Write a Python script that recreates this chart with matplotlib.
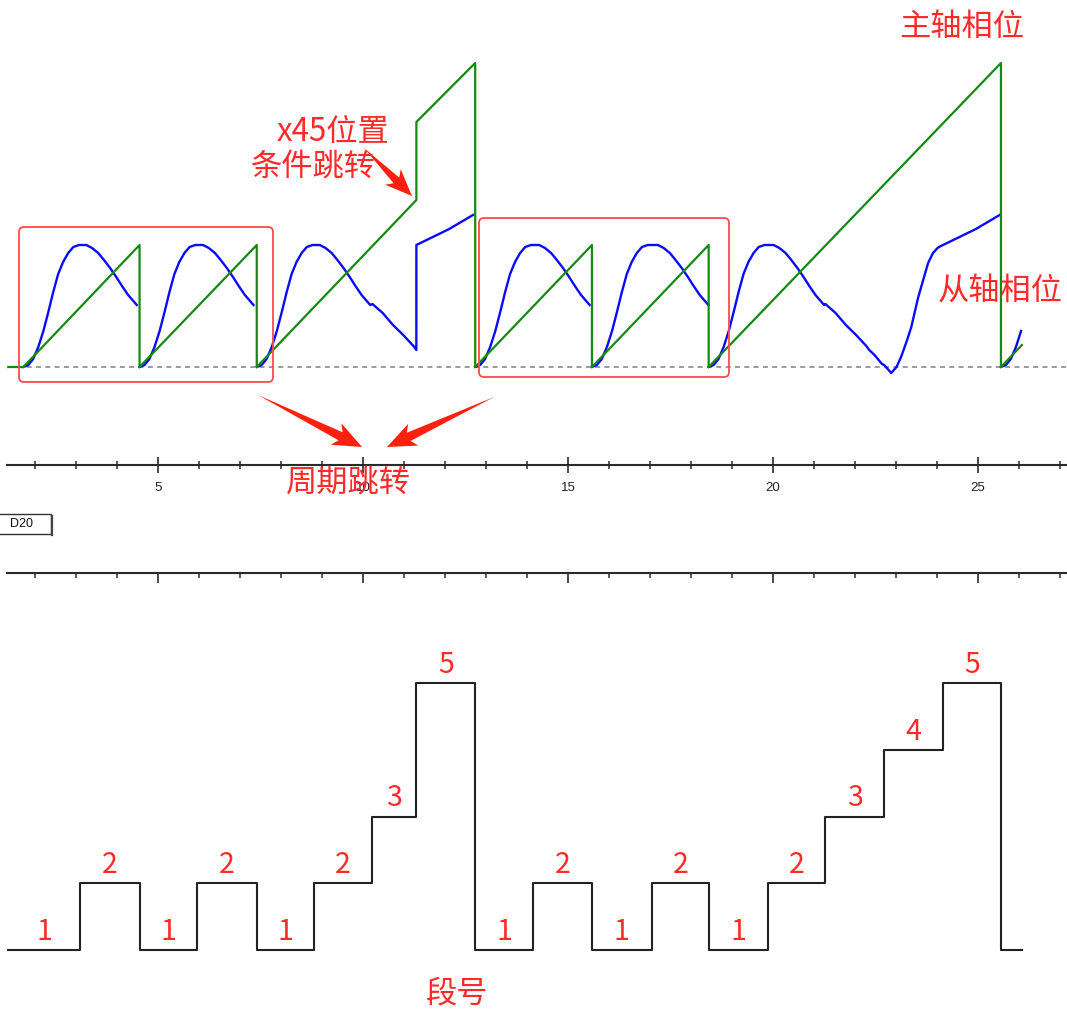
import numpy as np
import matplotlib
matplotlib.use("Agg")
import matplotlib.pyplot as plt
from matplotlib.patches import FancyBboxPatch, Polygon, Rectangle
from matplotlib.ticker import MultipleLocator

plt.rcParams['font.family'] = ['Noto Sans CJK SC', 'DejaVu Sans']

# ---- segment timeline (time in s) and the active segment number ----
SEG_EDGES = [1.35, 3.102, 4.55, 5.949, 7.409, 8.796, 10.231, 11.302, 12.737,
             14.148, 15.584, 17.044, 18.431, 19.866, 21.277, 22.713, 24.148,
             25.56, 26.071]
SEG_NUMS = [1, 2, 1, 2, 1, 2, 3, 5, 1, 2, 1, 2, 1, 2, 3, 4, 5, 1]
MOTION_START = 1.715

# ---- master axis phase (piecewise linear with resets / jump) ----
MASTER_T = [1.35, 1.715, 4.55, 4.55, 7.409, 7.409, 11.302, 11.302, 12.737,
            12.737, 15.584, 15.584, 18.431, 18.431, 25.56, 25.56, 26.071]
MASTER_V = [0, 0, 122, 0, 122, 0, 167, 245, 304,
            0, 122, 0, 122, 0, 304, 0, 22]

# ---- slave cam tables: time since segment start (s) -> slave phase ----
CAM1_T = [0, 0.12, 0.24, 0.365, 0.49, 0.61, 0.73, 0.85, 0.97, 1.095, 1.22, 1.36]
CAM1_V = [0, 2, 8, 20, 36, 55, 75, 93, 105, 114, 120, 122]
CAM2_T = [0, 0.15, 0.29, 0.44, 0.58, 0.73, 0.88, 1.02, 1.17, 1.38]
CAM2_V = [122, 122, 119, 114, 107, 99, 90, 81, 72, 62]
CAM3_T = [0, 0.25, 0.5, 0.75, 1.0, 1.07, 1.2, 1.38]
CAM3_V = [63, 54, 42, 32, 21, 17, 12, 3]
CAM4_T = [0, 0.17, 0.3, 0.41, 0.55, 0.66, 0.83, 0.95, 1.07, 1.19, 1.3, 1.38]
CAM4_V = [2, -6, 0, 10, 26, 40, 70, 87, 104, 114, 119, 121]
CAM5_T = [0, 0.3, 0.8, 1.38]
CAM5_V = [122, 128, 138, 152]

TICK_MAJOR = [5, 10, 15, 20, 25]
TICK_LABELS = ['5', '10', '15', '20', '25']

CAMS = {1: (CAM1_T, CAM1_V), 2: (CAM2_T, CAM2_V), 3: (CAM3_T, CAM3_V),
        4: (CAM4_T, CAM4_V), 5: (CAM5_T, CAM5_V)}

# slave phase follows the cam of each active segment; a new cycle
# (segment 1) restarts the curve, so the line is broken there
slave_t, slave_v = [], []
for i, seg in enumerate(SEG_NUMS):
    t0 = max(SEG_EDGES[i], MOTION_START)
    t1 = SEG_EDGES[i + 1]
    if seg == 1 and slave_t:
        slave_t.append(np.nan)
        slave_v.append(np.nan)
    cam_t, cam_v = CAMS[seg]
    for dt, v in zip(cam_t, cam_v):
        if t0 + dt <= t1 + 1e-6:
            slave_t.append(t0 + dt)
            slave_v.append(v)

W, H = 1067, 1010
fig = plt.figure(figsize=(W / 100, H / 100), dpi=100)

PX_PER_S = 41.0
X0 = 5 - 158 / PX_PER_S
X1 = X0 + W / PX_PER_S

RED = '#ff2b2b'
AXIS = '#2a2a2a'


def frac(y_top, y_bot):
    return [0, 1 - y_bot / H, 1, (y_bot - y_top) / H]


# ---------------- top: phase curves ----------------
ax = fig.add_axes(frac(0, 465))
ax.set_xlim(X0, X1)
ax.set_ylim(-98, 367)
ax.patch.set_alpha(0)
for s in ('top', 'left', 'right'):
    ax.spines[s].set_visible(False)
ax.spines['bottom'].set_bounds(SEG_EDGES[0] - 0.03, X1)
ax.spines['bottom'].set_linewidth(1.5)
ax.spines['bottom'].set_color(AXIS)
ax.set_yticks([])
ax.set_xticks(TICK_MAJOR)
ax.set_xticklabels(TICK_LABELS, fontfamily='Liberation Sans', fontsize=9.5,
                   color='#222')
ax.xaxis.set_minor_locator(MultipleLocator(1))
ax.tick_params(axis='x', which='major', direction='inout', length=12,
               width=1.2, color=AXIS, pad=6)
ax.tick_params(axis='x', which='minor', direction='inout', length=6,
               width=1.1, color=AXIS)

ax.plot([SEG_EDGES[0], X1], [0, 0], color='#808080', lw=1.1,
        ls=(0, (3.3, 2.8)), zorder=2)
ax.plot(slave_t, slave_v, color='#0a0aff', lw=1.7, zorder=3,
        solid_joinstyle='round')
ax.plot(MASTER_T, MASTER_V, color='#138a13', lw=1.6, zorder=4)

# ---------------- middle: second time axis ----------------
axm = fig.add_axes(frac(500, 573))
axm.set_xlim(X0, X1)
axm.patch.set_alpha(0)
for s in ('top', 'left', 'right'):
    axm.spines[s].set_visible(False)
axm.spines['bottom'].set_bounds(SEG_EDGES[0] - 0.03, X1)
axm.spines['bottom'].set_linewidth(1.5)
axm.spines['bottom'].set_color(AXIS)
axm.set_yticks([])
axm.set_xticks(TICK_MAJOR)
axm.set_xticklabels([])
axm.xaxis.set_minor_locator(MultipleLocator(1))
axm.tick_params(axis='x', which='major', direction='out', length=7,
                width=1.2, color=AXIS)
axm.tick_params(axis='x', which='minor', direction='out', length=3.8,
                width=1.1, color=AXIS)

# ---------------- bottom: segment number ----------------
STEP = 66.75
axb = fig.add_axes(frac(606, 1010))
axb.set_xlim(X0, X1)
axb.set_ylim(1 - 60 / STEP, 1 + 344 / STEP)
axb.axis('off')
axb.step(SEG_EDGES, SEG_NUMS + [SEG_NUMS[-1]], where='post', color='#222',
         lw=1.5)
for i in range(len(SEG_NUMS) - 1):
    mid = 0.5 * (SEG_EDGES[i] + SEG_EDGES[i + 1])
    axb.annotate(str(SEG_NUMS[i]), (mid, SEG_NUMS[i]), xytext=(0, 13),
                 textcoords='offset points', ha='center', va='center',
                 color=RED, fontsize=20.5)

# ---------------- annotation layer (pixel units) ----------------
ov = fig.add_axes([0, 0, 1, 1])
ov.set_xlim(0, W)
ov.set_ylim(H, 0)
ov.axis('off')
ov.patch.set_alpha(0)


def box(x0, y0, x1, y1):
    ov.add_patch(FancyBboxPatch((x0, y0), x1 - x0, y1 - y0,
                                boxstyle='round,pad=0,rounding_size=5',
                                fill=False, ec='#ff4a4a', lw=1.3))


def tapered_arrow(start, end, shaft=9, head_w=24, head_l=24):
    p0 = np.array(start, float)
    p1 = np.array(end, float)
    d = p1 - p0
    u = d / np.hypot(*d)
    n = np.array([-u[1], u[0]])
    base = p1 - u * head_l
    barb = p1 - u * (head_l + 5)
    pts = [p0, base + n * shaft / 2, barb + n * head_w / 2, p1,
           barb - n * head_w / 2, base - n * shaft / 2]
    ov.add_patch(Polygon(pts, closed=True, fc='#ff2010', ec='none'))


box(19, 227, 273, 382)
box(479, 218, 729, 377)

tapered_arrow((364, 148), (412, 196), shaft=8, head_w=22, head_l=22)
tapered_arrow((258, 395), (362, 447))
tapered_arrow((494, 397), (387, 447))

txt = dict(color=RED, fontsize=22.5, ha='center', va='center')
ov.text(962, 27, '主轴相位', **txt)
ov.text(333, 132, 'x45位置', **txt)
ov.text(313, 167, '条件跳转', **txt)
ov.text(1000, 292, '从轴相位', **txt)
ov.text(348, 482, '周期跳转', **txt)
ov.text(457, 993, '段号', **txt)

# small channel tag at the left edge
ov.add_patch(Rectangle((-6, 514), 57, 20, fill=False, ec='#333', lw=1.0))
ov.plot([51.5, 51.5], [516, 535], color='#444', lw=1.6)
ov.text(10, 524, 'D20', fontfamily='Liberation Sans', fontsize=9,
        color='#111', ha='left', va='center')

fig.savefig('out.png', dpi=100)
